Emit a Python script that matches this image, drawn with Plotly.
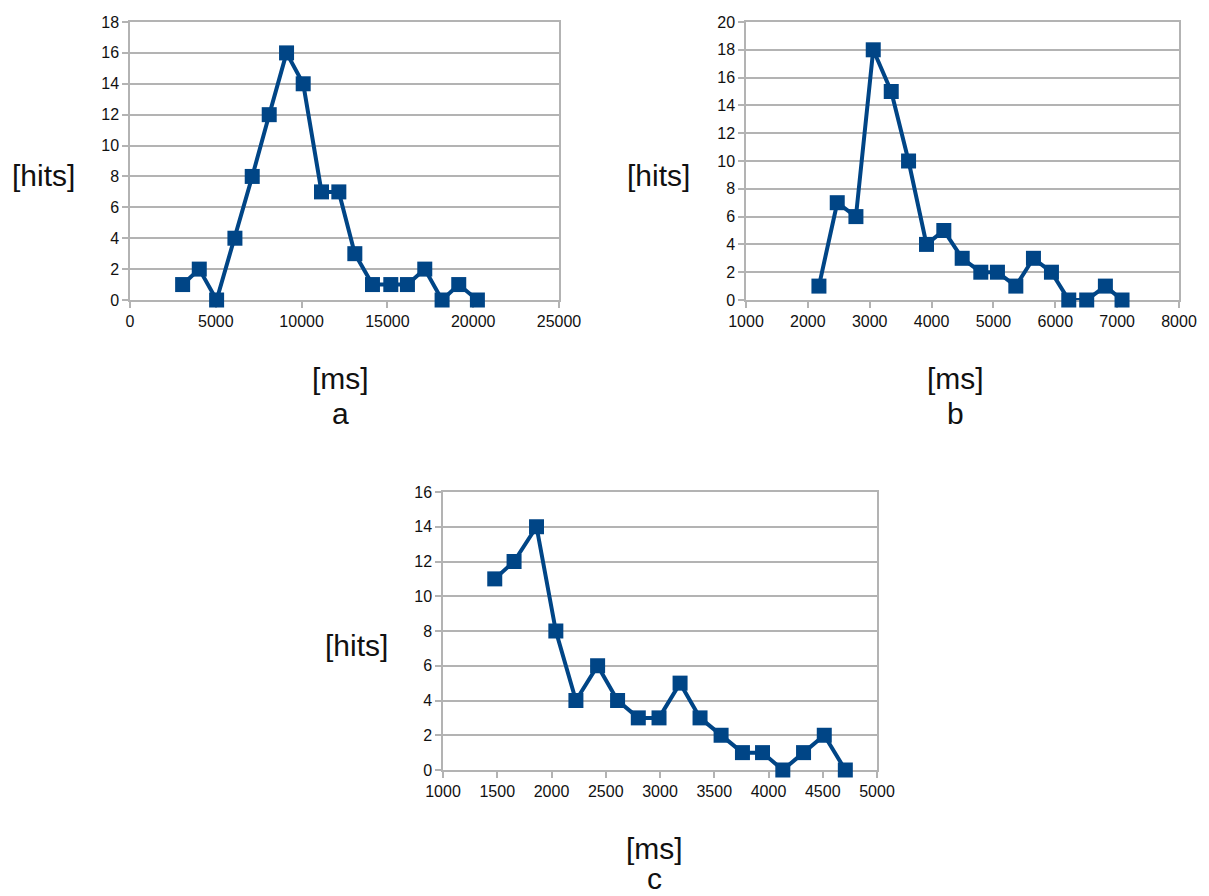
import plotly.graph_objects as go

# Chart a
a_ms = [3067, 4037, 5047, 6114, 7123, 8113, 9123, 10093, 11161, 12170, 13102, 14130, 15198, 16168, 17178, 18187, 19158, 20245]
a_hits = [1, 2, 0, 4, 8, 12, 16, 14, 7, 7, 3, 1, 1, 1, 2, 0, 1, 0]
# Chart b
b_ms = [2179, 2475, 2777, 3057, 3348, 3628, 3918, 4198, 4495, 4796, 5065, 5362, 5647, 5938, 6218, 6508, 6810, 7079]
b_hits = [1, 7, 6, 18, 15, 10, 4, 5, 3, 2, 2, 1, 3, 2, 0, 0, 1, 0]
# Chart c
c_ms = [1477, 1655, 1862, 2040, 2225, 2425, 2609, 2800, 2991, 3185, 3369, 3563, 3760, 3945, 4132, 4323, 4514, 4708]
c_hits = [11, 12, 14, 8, 4, 6, 4, 3, 3, 5, 3, 2, 1, 1, 0, 1, 2, 0]

panel_labels = ["a", "b", "c"]
x_title = "[ms]"
y_title = "[hits]"

# the page body has an 8px margin, so the figure is drawn 8px in from the corner
OFF = 8
W, H = 1209 - OFF, 896 - OFF
BLUE = "#004586"
GRID = "#b3b3b3"
FONT = "Liberation Sans, Arial, sans-serif"

def px(x):
    return (x - OFF) / W

def py(y):
    return 1 - (y - OFF) / H

panels = [
    dict(x=a_ms, y=a_hits, xr=[0, 25000], xd=5000, yr=[0, 18], yd=2,
         dom_x=[px(130), px(559)], dom_y=[py(300), py(22)],
         hits=(43, 175), ms=(340, 378), lab=(340, 413)),
    dict(x=b_ms, y=b_hits, xr=[1000, 8000], xd=1000, yr=[0, 20], yd=2,
         dom_x=[px(746), px(1179)], dom_y=[py(300), py(22)],
         hits=(658, 175), ms=(955, 378), lab=(955, 413)),
    dict(x=c_ms, y=c_hits, xr=[1000, 5000], xd=500, yr=[0, 16], yd=2,
         dom_x=[px(443), px(877)], dom_y=[py(770), py(492)],
         hits=(356, 645), ms=(654, 848), lab=(654, 878)),
]

fig = go.Figure()
annotations = []
layout = {}
tickfont = dict(family=FONT, size=16, color="#111")
for i, p in enumerate(panels):
    n = "" if i == 0 else str(i + 1)
    fig.add_trace(go.Scatter(
        x=p["x"], y=p["y"], mode="lines+markers",
        line=dict(color=BLUE, width=4),
        marker=dict(symbol="square", size=15, color=BLUE),
        xaxis="x" + n, yaxis="y" + n, showlegend=False, cliponaxis=False))
    layout["xaxis" + n] = dict(
        domain=p["dom_x"], range=p["xr"], dtick=p["xd"], tick0=0, tickformat="d",
        anchor="y" + n, showgrid=False, zeroline=False, automargin=False,
        showline=True, linecolor=GRID, linewidth=1.5, mirror=True,
        ticks="outside", ticklen=6, tickcolor=GRID, tickwidth=1.5,
        tickfont=tickfont, fixedrange=True, layer="below traces")
    layout["yaxis" + n] = dict(
        domain=p["dom_y"], range=p["yr"], dtick=p["yd"], tick0=0, tickformat="d",
        anchor="x" + n, showgrid=True, gridcolor=GRID, gridwidth=1.5, zeroline=False,
        automargin=False,
        showline=True, linecolor=GRID, linewidth=1.5, mirror=True,
        ticks="outside", ticklen=6, tickcolor=GRID, tickwidth=1.5,
        tickfont=tickfont, fixedrange=True, layer="below traces")
    for txt, (xx, yy) in [(y_title, p["hits"]), (x_title, p["ms"]), (panel_labels[i], p["lab"])]:
        annotations.append(dict(
            text=txt, x=px(xx), y=py(yy), xref="paper", yref="paper",
            xanchor="center", yanchor="middle", showarrow=False,
            font=dict(family=FONT, size=30, color="#111")))

fig.update_layout(
    width=W, height=H, margin=dict(l=0, r=0, t=0, b=0, autoexpand=False),
    paper_bgcolor="white", plot_bgcolor="white",
    annotations=annotations, **layout)

fig.write_html("out.html")
